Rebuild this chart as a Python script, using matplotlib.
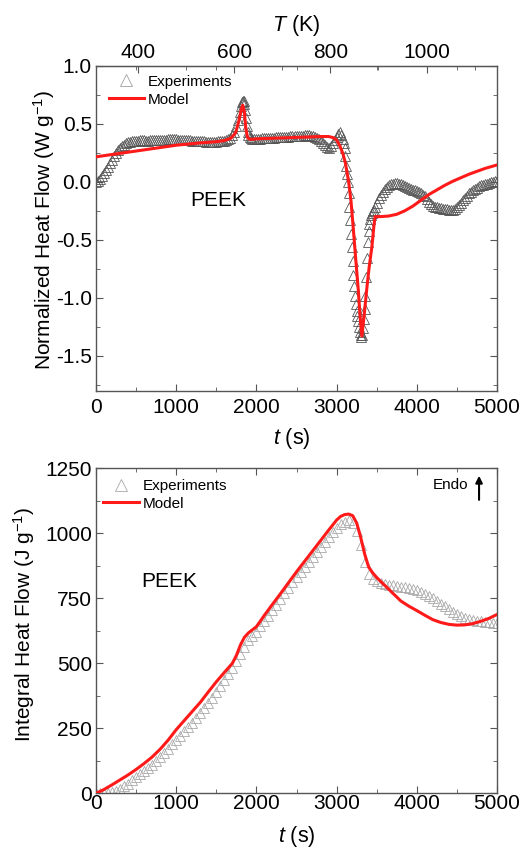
import matplotlib
matplotlib.use('Agg')
import matplotlib.pyplot as plt
from matplotlib.ticker import MultipleLocator, FixedLocator

plt.rcParams['font.family'] = ['Liberation Sans', 'DejaVu Sans']
plt.rcParams['mathtext.fontset'] = 'custom'
plt.rcParams['mathtext.rm'] = 'Liberation Sans'
plt.rcParams['mathtext.it'] = 'Liberation Sans:italic'
plt.rcParams['mathtext.default'] = 'regular'
plt.rcParams['axes.unicode_minus'] = False

# heat flow (top panel), experiments
exp_flow_t = [0, 25, 50, 75, 100, 125, 150, 175, 200, 225, 250, 275, 300, 325, 350, 375, 400,
              425, 450, 475, 500, 525, 550, 575, 600, 625, 650, 675, 700, 725, 750, 775, 800,
              825, 850, 875, 900, 925, 950, 975, 1000, 1025, 1050, 1075, 1100, 1125, 1150,
              1175, 1200, 1225, 1250, 1275, 1300, 1325, 1350, 1375, 1400, 1425, 1450, 1475,
              1500, 1525, 1550, 1575, 1600, 1625, 1650, 1675, 1700, 1725, 1750, 1770, 1790,
              1805, 1820, 1830, 1840, 1850, 1860, 1870, 1880, 1890, 1900, 1915, 1930, 1950,
              1975, 2000, 2025, 2050, 2075, 2100, 2125, 2150, 2175, 2200, 2225, 2250, 2275,
              2300, 2325, 2350, 2375, 2400, 2425, 2450, 2475, 2500, 2525, 2550, 2575, 2600,
              2625, 2650, 2675, 2700, 2725, 2750, 2775, 2800, 2825, 2850, 2875, 2900, 2925,
              2950, 2975, 3000, 3020, 3040, 3060, 3075, 3090, 3100, 3110, 3120, 3130, 3140,
              3150, 3160, 3170, 3180, 3190, 3200, 3210, 3220, 3230, 3240, 3250, 3260, 3270,
              3280, 3290, 3300, 3310, 3320, 3330, 3340, 3350, 3360, 3370, 3380, 3390, 3400,
              3410, 3420, 3430, 3440, 3450, 3460, 3475, 3500, 3525, 3550, 3575, 3600, 3625,
              3650, 3675, 3700, 3725, 3750, 3775, 3800, 3825, 3850, 3875, 3900, 3925, 3950,
              3975, 4000, 4025, 4050, 4075, 4100, 4125, 4150, 4175, 4200, 4225, 4250, 4275,
              4300, 4325, 4350, 4375, 4400, 4425, 4450, 4475, 4500, 4525, 4550, 4575, 4600,
              4625, 4650, 4675, 4700, 4725, 4750, 4775, 4800, 4825, 4850, 4875, 4900, 4925,
              4950, 4975, 5000]
exp_flow_v = [0.00, 0.01, 0.025, 0.05, 0.075, 0.10, 0.13, 0.16, 0.19, 0.22, 0.245, 0.27, 0.29,
              0.305, 0.32, 0.33, 0.34, 0.345, 0.35, 0.352, 0.355, 0.355, 0.356, 0.356, 0.356,
              0.355, 0.355, 0.356, 0.357, 0.358, 0.359, 0.36, 0.361, 0.362, 0.363, 0.364,
              0.365, 0.365, 0.365, 0.365, 0.365, 0.364, 0.363, 0.362, 0.36, 0.358, 0.357,
              0.356, 0.355, 0.354, 0.352, 0.351, 0.35, 0.349, 0.348, 0.347, 0.346, 0.345,
              0.345, 0.345, 0.346, 0.348, 0.35, 0.352, 0.355, 0.36, 0.368, 0.38, 0.40, 0.43,
              0.48, 0.53, 0.60, 0.65, 0.69, 0.70, 0.70, 0.67, 0.62, 0.55, 0.48, 0.43, 0.40,
              0.385, 0.375, 0.37, 0.37, 0.37, 0.371, 0.372, 0.373, 0.375, 0.376, 0.377, 0.378,
              0.38, 0.381, 0.382, 0.383, 0.385, 0.386, 0.387, 0.388, 0.39, 0.391, 0.392,
              0.393, 0.395, 0.396, 0.397, 0.398, 0.40, 0.40, 0.399, 0.397, 0.395, 0.39, 0.38,
              0.37, 0.355, 0.335, 0.315, 0.30, 0.295, 0.305, 0.33, 0.36, 0.39, 0.41, 0.425,
              0.40, 0.37, 0.33, 0.29, 0.22, 0.14, 0.07, 0.00, -0.10, -0.22, -0.33, -0.45,
              -0.56, -0.68, -0.80, -0.90, -0.98, -1.05, -1.11, -1.16, -1.20, -1.25, -1.29,
              -1.32, -1.335, -1.32, -1.26, -1.18, -1.10, -0.98, -0.82, -0.66, -0.52, -0.42,
              -0.36, -0.32, -0.29, -0.27, -0.255, -0.24, -0.22, -0.18, -0.14, -0.11, -0.085,
              -0.06, -0.045, -0.03, -0.02, -0.015, -0.01, -0.01, -0.015, -0.02, -0.03, -0.04,
              -0.045, -0.05, -0.06, -0.07, -0.075, -0.08, -0.09, -0.10, -0.11, -0.12, -0.145,
              -0.17, -0.19, -0.21, -0.215, -0.22, -0.225, -0.23, -0.233, -0.235, -0.238,
              -0.24, -0.24, -0.24, -0.235, -0.22, -0.20, -0.18, -0.16, -0.14, -0.12, -0.10,
              -0.085, -0.07, -0.06, -0.05, -0.04, -0.03, -0.025, -0.02, -0.015, -0.01,
              -0.005, 0.00, 0.003, 0.005]

# heat flow (top panel), model
mod_flow_t = [0, 500, 1000, 1300, 1500, 1600, 1680, 1740, 1780, 1810, 1830, 1850, 1870, 1890,
              1920, 2000, 2200, 2400, 2600, 2800, 2900, 2960, 3000, 3040, 3080, 3110, 3150,
              3180, 3210, 3240, 3270, 3295, 3315, 3345, 3375, 3405, 3440, 3465, 3480, 3550,
              3650, 3750, 3850, 3950, 4050, 4150, 4250, 4350, 4450, 4550, 4650, 4750, 4850,
              4950, 5000]
mod_flow_v = [0.215, 0.265, 0.315, 0.335, 0.345, 0.355, 0.375, 0.42, 0.52, 0.62, 0.66, 0.60,
              0.45, 0.38, 0.365, 0.37, 0.375, 0.38, 0.385, 0.39, 0.39, 0.38, 0.36, 0.31, 0.24,
              0.16, 0.00, -0.17, -0.42, -0.68, -0.93, -1.18, -1.33, -1.14, -0.93, -0.74,
              -0.56, -0.38, -0.30, -0.30, -0.295, -0.28, -0.25, -0.21, -0.16, -0.11, -0.07,
              -0.03, 0.005, 0.035, 0.065, 0.09, 0.115, 0.135, 0.145]

# integral heat flow (bottom panel), experiments
exp_int_t = [0, 50, 100, 150, 200, 250, 300, 350, 400, 450, 500, 550, 600, 650, 700, 750, 800,
             850, 900, 950, 1000, 1050, 1100, 1150, 1200, 1250, 1300, 1350, 1400, 1450, 1500,
             1550, 1600, 1650, 1700, 1750, 1800, 1850, 1900, 1950, 2000, 2050, 2100, 2150,
             2200, 2250, 2300, 2350, 2400, 2450, 2500, 2550, 2600, 2650, 2700, 2750, 2800,
             2850, 2900, 2950, 3000, 3050, 3100, 3150, 3200, 3250, 3300, 3350, 3400, 3450,
             3500, 3550, 3600, 3650, 3700, 3750, 3800, 3850, 3900, 3950, 4000, 4050, 4100,
             4150, 4200, 4250, 4300, 4350, 4400, 4450, 4500, 4550, 4600, 4650, 4700, 4750,
             4800, 4850, 4900, 4950, 5000]
exp_int_v = [0, 0, 1, 3, 6, 11, 18, 27, 38, 50, 62, 73, 85, 98, 111, 125, 140, 155, 171, 188,
             205, 222, 238, 255, 272, 290, 308, 327, 347, 368, 390, 413, 436, 459, 482, 508,
             535, 563, 588, 606, 622, 642, 662, 683, 705, 726, 748, 769, 790, 811, 832, 852,
             872, 891, 910, 929, 948, 967, 986, 1005, 1022, 1035, 1045, 1051, 1040, 1008,
             955, 890, 845, 825, 815, 810, 806, 803, 800, 798, 795, 793, 790, 786, 782, 776,
             768, 760, 750, 740, 730, 719, 708, 698, 689, 681, 675, 670, 667, 664, 662, 660,
             658, 657, 656]

# integral heat flow (bottom panel), model
mod_int_t = [0, 100, 200, 300, 400, 500, 600, 700, 800, 900, 1000, 1100, 1200, 1300, 1400,
             1500, 1600, 1700, 1750, 1800, 1850, 1900, 2000, 2100, 2200, 2300, 2400, 2500,
             2600, 2700, 2800, 2900, 3000, 3050, 3100, 3150, 3200, 3250, 3300, 3350, 3400,
             3450, 3500, 3600, 3700, 3800, 3900, 4000, 4100, 4200, 4300, 4400, 4500, 4600,
             4700, 4800, 4900, 5000]
mod_int_v = [0, 15, 33, 52, 71, 92, 115, 140, 170, 205, 245, 280, 315, 350, 390, 429, 465,
             500, 530, 570, 600, 617, 641, 685, 727, 768, 810, 852, 892, 932, 972, 1012,
             1051, 1065, 1072, 1074, 1068, 1040, 985, 920, 870, 848, 830, 800, 770, 740, 720,
             703, 685, 668, 657, 650, 647, 648, 653, 662, 673, 688]

# temperature scale of the top axis: T = T_START + RATE * t
T_START = 313.0
RATE = 10.0 / 60.0

RED = '#ff1a1a'
SPINE = '#555555'
TICK_SIZE = 15


def style_axes(ax, xpad):
    for sp in ax.spines.values():
        sp.set_color(SPINE)
        sp.set_linewidth(1.0)
    ax.tick_params(which='both', direction='in', colors=SPINE, labelcolor='black',
                   labelsize=TICK_SIZE, top=True, right=True)
    ax.tick_params(which='major', length=5)
    ax.tick_params(which='minor', length=3)
    ax.tick_params(axis='x', pad=xpad)
    ax.tick_params(axis='y', pad=3)
    ax.xaxis.set_major_locator(MultipleLocator(1000))
    ax.xaxis.set_minor_locator(MultipleLocator(500))
    ax.set_xlim(0, 5000)


fig = plt.figure(figsize=(5.26, 8.49), dpi=100)

# ---- top panel: normalized heat flow
ax1 = fig.add_axes([0.1825, 0.5398, 0.7624, 0.3828])
style_axes(ax1, 5.0)
ax1.tick_params(top=False)
ax1.plot(exp_flow_t, exp_flow_v, linestyle='none', marker='^', markersize=7,
         markerfacecolor='none', markeredgecolor='#555555', markeredgewidth=0.6,
         label='Experiments', zorder=2)
ax1.plot(mod_flow_t, mod_flow_v, color=RED, lw=2.2, label='Model', zorder=3)
ax1.set_ylim(-1.8, 1.0)
ax1.yaxis.set_major_locator(MultipleLocator(0.5))
ax1.yaxis.set_minor_locator(MultipleLocator(0.25))
ax1.set_ylabel('Normalized Heat Flow (W g$^{-1}$)', fontsize=15)
ax1.yaxis.set_label_coords(-0.098, 0.494)
ax1.set_xlabel('$\\mathit{t}$ (s)', fontsize=15.5)
ax1.xaxis.set_label_coords(0.489, -0.108)
ax1.text(1520, -0.16, 'PEEK', fontsize=15, ha='center', va='center')

secax = ax1.secondary_xaxis('top', functions=(lambda t: T_START + RATE * t,
                                               lambda T: (T - T_START) / RATE))
secax.xaxis.set_major_locator(FixedLocator([400, 600, 800, 1000]))
secax.xaxis.set_minor_locator(FixedLocator([500, 700, 900, 1100]))
secax.tick_params(which='both', direction='in', colors=SPINE, labelcolor='black',
                  labelsize=TICK_SIZE, pad=3)
secax.tick_params(which='major', length=5)
secax.tick_params(which='minor', length=3)
secax.spines['top'].set_color(SPINE)
secax.set_xlabel('$\\mathit{T}$ (K)', fontsize=15.5, labelpad=8)

leg1 = ax1.legend(loc='upper left', bbox_to_anchor=(0.005, 1.005), frameon=False,
                  fontsize=11, handlelength=2.3, handletextpad=0.25, labelspacing=0.25,
                  borderaxespad=0.3)
leg1.legend_handles[0].set_markeredgecolor('#a0a0a0')
leg1.legend_handles[0].set_markersize(8)

# ---- bottom panel: integral heat flow
ax2 = fig.add_axes([0.1825, 0.0655, 0.7624, 0.3829])
style_axes(ax2, 0.5)
ax2.plot(exp_int_t, exp_int_v, linestyle='none', marker='^', markersize=6.5,
         markerfacecolor='none', markeredgecolor='#a8a8a8', markeredgewidth=0.6,
         label='Experiments', zorder=2)
ax2.plot(mod_int_t, mod_int_v, color=RED, lw=2.2, label='Model', zorder=3)
ax2.set_ylim(0, 1250)
ax2.yaxis.set_major_locator(MultipleLocator(250))
ax2.yaxis.set_minor_locator(MultipleLocator(125))
ax2.set_ylabel('Integral Heat Flow (J g$^{-1}$)', fontsize=15)
ax2.yaxis.set_label_coords(-0.147, 0.521)
ax2.set_xlabel('$\\mathit{t}$ (s)', fontsize=15.5)
ax2.xaxis.set_label_coords(0.50, -0.093)
ax2.text(910, 814, 'PEEK', fontsize=15, ha='center', va='center')
ax2.text(4640, 1186, 'Endo', fontsize=11, ha='right', va='center')
ax2.annotate('', xy=(4776, 1232), xytext=(4776, 1118),
             arrowprops=dict(arrowstyle='-|>', color='black', lw=1.5, mutation_scale=10))
leg2 = ax2.legend(loc='upper left', bbox_to_anchor=(-0.008, 1.0), frameon=False,
                  fontsize=11, handlelength=2.3, handletextpad=0.25, labelspacing=0.25,
                  borderaxespad=0.3)
leg2.legend_handles[0].set_markersize(8)

fig.savefig('out.png', dpi=100)
